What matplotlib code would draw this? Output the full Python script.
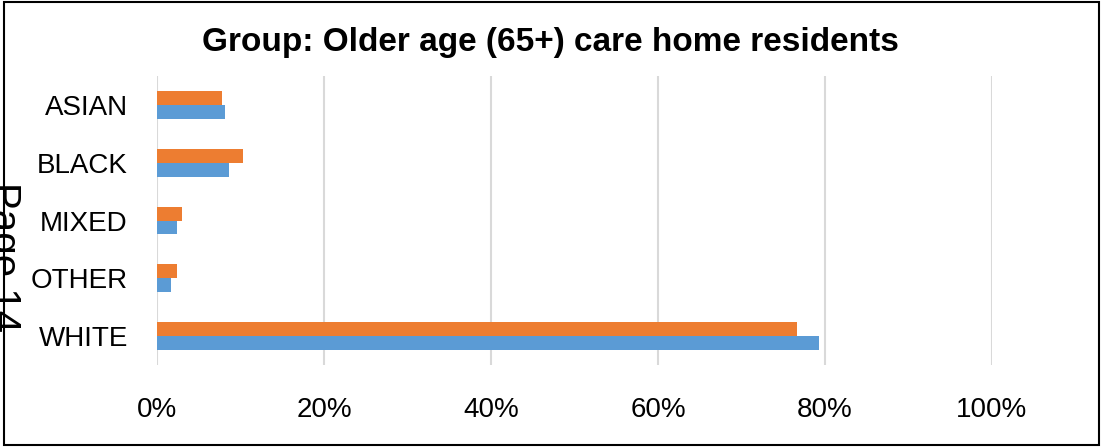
import numpy as np
import matplotlib
matplotlib.use("Agg")
import matplotlib.pyplot as plt
from matplotlib.patches import Rectangle
from matplotlib.ticker import PercentFormatter

plt.rcParams['font.family'] = ['Liberation Sans', 'DejaVu Sans']

# data
categories = ["ASIAN", "BLACK", "MIXED", "OTHER", "WHITE"]
orange_vals = [7.8, 10.3, 3.0, 2.4, 76.6]
blue_vals = [8.1, 8.6, 2.4, 1.7, 79.3]
x_ticks = [0, 20, 40, 60, 80, 100]
title = "Group: Older age (65+) care home residents"

fig = plt.figure(figsize=(11.02, 4.48), dpi=100)
ax = fig.add_axes([157/1102, 1-365/448, (992-157)/1102, (365-76)/448])

y = np.arange(len(categories))
h = 0.24
ax.barh(y - h/2, orange_vals, height=h, color="#ED7D31", zorder=3)
ax.barh(y + h/2, blue_vals, height=h, color="#5B9BD5", zorder=3)

ax.set_xlim(0, 100)
ax.set_ylim(len(categories) - 0.5, -0.5)
ax.set_xticks(x_ticks)
ax.xaxis.set_major_formatter(PercentFormatter(decimals=0))
ax.set_yticks(y)
ax.set_yticklabels(categories)
ax.tick_params(axis='both', length=0, labelsize=20, colors='black')
ax.tick_params(axis='y', pad=21)
ax.tick_params(axis='x', pad=23)
ax.grid(axis='x', color="#D9D9D9", linewidth=1.5, zorder=0)
for s in ax.spines.values():
    s.set_visible(False)

fig.text(550/1102, 1-42/448, title, ha='center', va='center',
         fontsize=24, fontweight='bold')

# page number stamp overlapping the left edge
fig.text(-8/1102, 1-182/448, "Page 14", rotation=-90, rotation_mode='anchor',
         ha='left', va='baseline', fontsize=29)

# outer border
fig.add_artist(Rectangle((4/1102, 3/448), 1095/1102, 443/448,
                         transform=fig.transFigure, fill=False,
                         edgecolor='black', linewidth=1.5))

fig.savefig("out.png", dpi=100)
